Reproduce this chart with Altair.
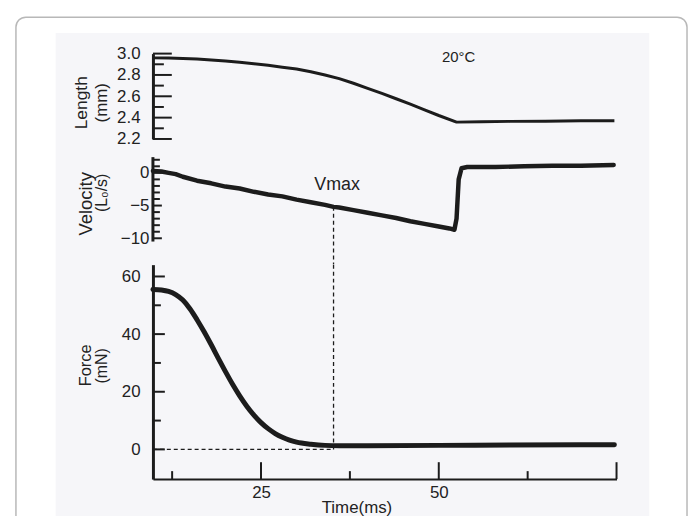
import altair as alt
import pandas as pd

# ---------------- data ----------------
time_len = [9.8, 12, 14, 16, 18, 20, 22, 24, 26, 28, 30, 32, 34, 36, 38, 40, 42, 44, 46, 48, 50,
            52.5, 56, 60, 65, 70, 74.7]
length_mm = [2.96, 2.959, 2.955, 2.949, 2.94, 2.93, 2.918, 2.905, 2.89, 2.873, 2.855, 2.83, 2.80,
             2.765, 2.722, 2.675, 2.627, 2.577, 2.526, 2.473, 2.42, 2.358, 2.362, 2.365, 2.367,
             2.37, 2.371]

time_vel = [9.8, 11, 12, 13, 14, 16, 18, 20, 22, 24, 26, 28, 30, 32, 34, 35.2, 36, 38, 40, 42, 44,
            46, 48, 50, 51.5, 52.2, 52.5, 52.8, 53.2, 54, 58, 62, 66, 70, 74.6]
velocity = [0.3, 0.2, 0.0, -0.2, -0.6, -1.2, -1.6, -2.1, -2.4, -2.9, -3.3, -3.6, -4.1, -4.5, -4.9,
            -5.2, -5.3, -5.7, -6.1, -6.5, -6.9, -7.4, -7.8, -8.2, -8.5, -8.7, -7.0, -1.0, 0.7,
            0.9, 0.9, 1.0, 1.1, 1.1, 1.2]

time_force = [9.8, 11, 12, 13, 14, 15, 16, 17, 18, 19, 20, 21, 22, 23, 24, 25, 26, 27, 28, 29, 30,
              32, 34, 36, 40, 50, 60, 70, 74.7]
force_mN = [55.5, 55.3, 54.8, 53.7, 51.8, 48.8, 45.0, 40.8, 36.3, 31.6, 27.0, 22.6, 18.6, 15.0, 11.9,
            9.3, 7.2, 5.5, 4.2, 3.2, 2.5, 1.8, 1.4, 1.3, 1.3, 1.4, 1.5, 1.6, 1.6]

len_major = [2.2, 2.4, 2.6, 2.8, 3.0]
len_minor = [2.3, 2.5, 2.7, 2.9]
vel_major = [0, -5, -10]
vel_minor = [2, 1, -1, -2, -3, -4, -6, -7, -8, -9]
vel_axis_span = [-10.5, 2.4]
force_major = [0, 20, 40, 60]
force_minor = [10, 30, 50]
time_major = [25, 50, 75]
time_minor = [12.5, 37.5, 62.5]
time_labels = [25, 50]

vmax_time = 35.2
vmax_vel = -5.2
vmax_label = ["Vmax"]
vmax_label_pos = [35.7, -2.6]
temp_label = ["20°C"]
temp_label_pos = [52.8, 2.923]

# ---------------- layout / style ----------------
X_DOMAIN = [9.8, 75]
W = 467
H1, H2, H3 = 86, 89.7, 216
GAP = 18.3
INK = "#1c1c1c"
TXT = "#222222"
FONT = "Liberation Sans"

xs = alt.Scale(domain=X_DOMAIN, nice=False, zero=False)
x_plain = alt.X("t:Q", scale=xs, axis=None)

df_len = pd.DataFrame({"t": time_len, "v": length_mm})
df_vel = pd.DataFrame({"t": time_vel, "v": velocity})
df_force = pd.DataFrame({"t": time_force, "v": force_mN})
one = pd.DataFrame({"a": [0]})


def y_axis(values, fmt, pad, domain=True):
    kw = dict(values=values, ticks=False, grid=False, title=None, domain=domain, domainWidth=3,
              domainColor=INK, labelFont=FONT, labelFontSize=17, labelColor=TXT,
              labelPadding=pad, zindex=1)
    if fmt:
        kw["format"] = fmt
    return alt.Axis(**kw)


def tick_rules(values, yenc, length):
    return alt.Chart(pd.DataFrame({"v": values})).mark_rule(color=INK, strokeWidth=2).encode(
        y=yenc, x=alt.value(0), x2=alt.value(length))


def title_text(label, px, py, size):
    return alt.Chart(pd.DataFrame({"s": [label]})).mark_text(
        angle=270, align="center", baseline="middle", font=FONT, fontSize=size, color=TXT
    ).encode(text="s:N", x=alt.value(px), y=alt.value(py))


# ---------------- panel 1 : Length ----------------
ys1 = alt.Scale(domain=[2.2, 3.0], nice=False, zero=False)
ax1 = y_axis(len_major, ".1f", 13)
y1 = alt.Y("v:Q", scale=ys1, axis=ax1)

card = alt.Chart(one).mark_rect(fill="white", stroke="#b8b8b8", strokeWidth=1.5,
                                cornerRadius=10).encode(
    x=alt.value(-138), x2=alt.value(538), y=alt.value(-36.7), y2=alt.value(482))
scan = alt.Chart(one).mark_rect(fill="#f6f6f9").encode(
    x=alt.value(-98), x2=alt.value(500), y=alt.value(-20.7), y2=alt.value(482))
len_line = alt.Chart(df_len).mark_line(color=INK, strokeWidth=3, strokeJoin="round").encode(
    x=x_plain, y=y1)
len_tmaj = tick_rules(len_major, y1, 19)
len_tmin = tick_rules(len_minor, y1, 11)
temp = alt.Chart(pd.DataFrame({"t": [temp_label_pos[0]], "v": [temp_label_pos[1]],
                               "s": temp_label})).mark_text(
    align="center", baseline="alphabetic", font=FONT, fontSize=15, color=TXT
).encode(x=x_plain, y=y1, text="s:N")
p1 = alt.layer(card, scan, len_line, len_tmaj, len_tmin, temp,
               title_text("Length", -71, 49.5, 17.5),
               title_text("(mm)", -51, 49.5, 17)).properties(width=W, height=H1)

# ---------------- panel 2 : Velocity ----------------
ys2 = alt.Scale(domain=[-11.21, 2.4], nice=False, zero=False)
ax2 = y_axis(vel_major, "", 4, domain=False)
y2 = alt.Y("v:Q", scale=ys2, axis=ax2)
vel_axis = alt.Chart(pd.DataFrame({"v": [vel_axis_span[0]], "v1": [vel_axis_span[1]]})).mark_rule(
    color=INK, strokeWidth=3).encode(x=alt.value(0), y=y2, y2="v1:Q")
vel_line = alt.Chart(df_vel).mark_line(color=INK, strokeWidth=4.5, strokeCap="round",
                                       strokeJoin="round").encode(x=x_plain, y=y2)
vel_tmaj = tick_rules(vel_major, y2, 9)
vel_tmin = tick_rules(vel_minor, y2, 7)
vmax_txt = alt.Chart(pd.DataFrame({"t": [vmax_label_pos[0]], "v": [vmax_label_pos[1]],
                                   "s": vmax_label})).mark_text(
    align="center", baseline="alphabetic", font=FONT, fontSize=18, color=TXT
).encode(x=x_plain, y=y2, text="s:N")
vmax_seg = alt.Chart(pd.DataFrame({"t": [vmax_time], "v": [vmax_vel]})).mark_rule(
    color=INK, strokeWidth=1.3, strokeDash=[4, 3]).encode(x=x_plain, y=y2, y2=alt.value(H2 + GAP))
p2 = alt.layer(vmax_seg, vel_axis, vel_line, vel_tmaj, vel_tmin, vmax_txt,
               title_text("Velocity", -67, 47, 18.5),
               title_text("(L₀/s)", -51.5, 36, 16)).properties(width=W, height=H2)

# ---------------- panel 3 : Force ----------------
ys3 = alt.Scale(domain=[-10.3, 64.1], nice=False, zero=False)
ax3 = y_axis(force_major, "", 13)
y3 = alt.Y("v:Q", scale=ys3, axis=ax3)
xax = alt.Axis(values=time_labels, ticks=False, grid=False, domainWidth=2, domainColor=INK,
               labelFont=FONT, labelFontSize=17, labelColor=TXT, labelPadding=6,
               title="Time(ms)", titleFont=FONT, titleFontSize=17, titleFontWeight="normal",
               titleColor=TXT, titleX=205, titleY=34, titleAlign="center",
               titleBaseline="alphabetic", zindex=1)
x3 = alt.X("t:Q", scale=xs, axis=xax)

force_line = alt.Chart(df_force).mark_line(color=INK, strokeWidth=5, interpolate="monotone",
                                           strokeCap="round").encode(x=x3, y=y3)
f_tmaj = tick_rules(force_major, y3, 12)
f_tmin = tick_rules(force_minor, y3, 8)
xt_maj = alt.Chart(pd.DataFrame({"t": time_major})).mark_rule(color=INK, strokeWidth=2).encode(
    x=x3, y=alt.value(H3), y2=alt.value(H3 - 17))
xt_min = alt.Chart(pd.DataFrame({"t": time_minor})).mark_rule(color=INK, strokeWidth=2).encode(
    x=x3, y=alt.value(H3), y2=alt.value(H3 - 8))
vdash = alt.Chart(pd.DataFrame({"t": [vmax_time], "v": [0]})).mark_rule(
    color=INK, strokeWidth=1.3, strokeDash=[4, 3]).encode(x=x3, y=y3, y2=alt.value(0))
hdash = alt.Chart(pd.DataFrame({"t": [X_DOMAIN[0]], "t1": [vmax_time], "v": [0]})).mark_rule(
    color=INK, strokeWidth=1.3, strokeDash=[4, 3]).encode(x=x3, x2="t1:Q", y=y3)
p3 = alt.layer(vdash, hdash, force_line, f_tmaj, f_tmin, xt_maj, xt_min,
               title_text("Force", -67, 101.5, 16.5),
               title_text("(mN)", -51, 102, 16)).properties(width=W, height=H3)

chart = alt.vconcat(p1, p2, p3, spacing=GAP, bounds="flush").properties(
    padding={"left": 6, "top": 6, "right": 0, "bottom": 0},
    background="white",
).configure_view(stroke="transparent")

chart.save("out.html", embed_options={"renderer": "svg", "actions": False})
